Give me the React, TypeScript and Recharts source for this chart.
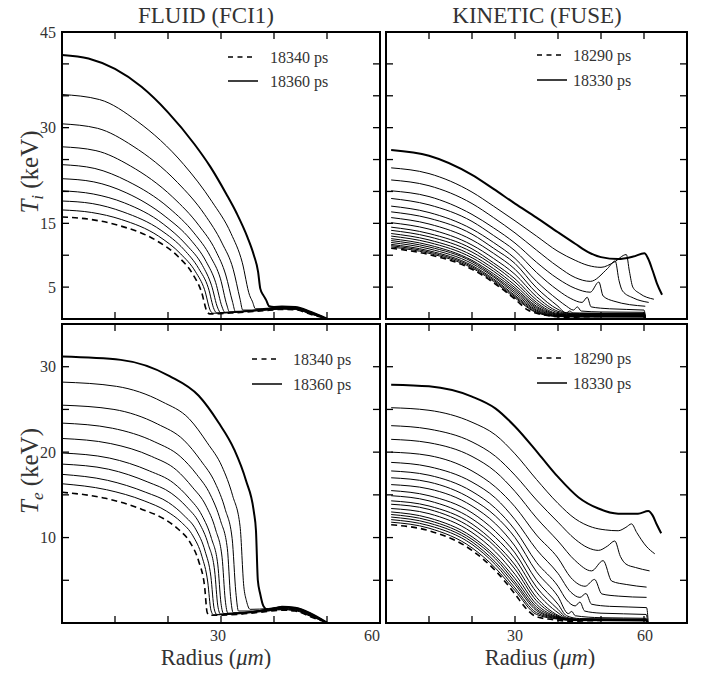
import { LineChart, Line, XAxis, YAxis, ReferenceArea } from 'recharts'

const W = 704
const H = 677
const FONT = '"Liberation Serif", "DejaVu Serif", serif'
const INK = '#333'

// each curve: [radius (um), temperature (keV)], first = dashed (earliest), last = thick (latest)
const fluidIon = [
  [[0, 16.0], [5.5, 15.6], [11, 14.6], [17.8, 12.3], [21.9, 9.8], [24.7, 7.0], [26.3, 4.3], [27.4, 1.1], [27.9, 0.8], [33, 1.0], [38, 1.3], [41.5, 1.5], [44, 1.45], [47, 0.7], [50, 0.05]],
  [[0, 17.1], [5.6, 16.7], [11.2, 15.6], [18.2, 13.0], [22.4, 10.2], [25.2, 7.4], [26.9, 4.6], [28, 1.3], [28.5, 0.9], [33, 1.05], [38, 1.35], [41.5, 1.55], [44, 1.5], [47, 0.75], [50, 0.05]],
  [[0, 18.5], [5.7, 18.1], [11.5, 16.8], [18.7, 13.9], [23, 10.9], [25.8, 7.9], [27.6, 4.9], [28.7, 1.5], [29.2, 0.95], [33, 1.1], [38, 1.4], [41.5, 1.6], [44, 1.55], [47, 0.8], [50, 0.05]],
  [[0, 20.1], [5.9, 19.6], [11.8, 18.2], [19.1, 14.9], [23.5, 11.6], [26.5, 8.4], [28.2, 5.3], [29.4, 1.7], [29.9, 1.0], [34, 1.15], [38, 1.45], [41.5, 1.65], [44, 1.6], [47, 0.85], [50, 0.05]],
  [[0, 22.0], [6.0, 21.5], [12.1, 19.8], [19.6, 16.0], [24.2, 12.5], [27.2, 9.0], [29, 5.7], [30.2, 1.9], [30.7, 1.05], [34, 1.2], [38, 1.5], [41.5, 1.7], [44, 1.65], [47, 0.9], [50, 0.05]],
  [[0, 24.2], [6.2, 23.6], [12.4, 21.6], [20.2, 17.4], [24.9, 13.5], [28, 9.8], [29.9, 6.3], [31.1, 2.2], [31.6, 1.1], [35, 1.25], [38.5, 1.55], [41.5, 1.75], [44, 1.7], [47, 0.95], [50, 0.05]],
  [[0, 27.0], [6.4, 26.4], [12.9, 24.0], [20.9, 19.1], [25.8, 14.7], [29, 10.7], [30.9, 6.9], [32.2, 2.6], [32.7, 1.2], [35.5, 1.3], [38.5, 1.6], [41.5, 1.8], [44, 1.75], [47, 1.0], [50, 0.05]],
  [[0, 30.6], [6.7, 29.9], [13.4, 27.1], [21.8, 21.4], [26.9, 16.4], [30.2, 11.9], [32.3, 7.8], [33.6, 3.1], [34.1, 1.4], [36.5, 1.4], [39, 1.65], [41.5, 1.85], [44, 1.8], [47, 1.05], [50, 0.05]],
  [[0, 35.2], [7.1, 34.4], [14.2, 31.0], [23, 24.2], [28.3, 18.4], [31.9, 13.4], [34, 8.9], [35.4, 3.7], [35.9, 2.8], [36.5, 1.6], [39, 1.7], [41.5, 1.9], [44, 1.85], [47, 1.1], [50, 0.05]],
  [[0, 41.4], [5, 40.84], [10, 39.2], [15, 36.4], [20, 32.4], [25, 27.4], [28, 23.85], [31, 19.6], [33, 16.5], [35, 12.8], [36.2, 10.0], [37, 7.4], [37.4, 4.8], [38, 3.7], [38.5, 3.0], [39.1, 2.0], [40, 1.9], [41.5, 1.95], [44, 1.9], [47, 1.1], [50, 0.05]],
]

const fluidElec = [
  [[0, 15.3], [8.2, 14.6], [15.1, 13.3], [19.2, 12.2], [21.9, 11.0], [24.1, 9.5], [25.8, 7.2], [26.9, 4.3], [27.4, 1.2], [27.9, 0.9], [33, 1.0], [38, 1.3], [41.5, 1.5], [44, 1.4], [47, 0.7], [50, 0.05]],
  [[0, 16.3], [8.4, 15.6], [15.5, 14.3], [19.7, 13.1], [22.5, 11.8], [24.7, 10.2], [26.4, 7.8], [27.5, 4.8], [28.1, 1.5], [28.6, 0.95], [33, 1.05], [38, 1.35], [41.5, 1.55], [44, 1.45], [47, 0.75], [50, 0.05]],
  [[0, 17.4], [8.6, 16.7], [15.8, 15.3], [20.1, 14.1], [23, 12.6], [25.3, 10.9], [27, 8.4], [28.1, 5.4], [28.7, 1.7], [29.2, 1.0], [33, 1.1], [38, 1.4], [41.5, 1.6], [44, 1.5], [47, 0.8], [50, 0.05]],
  [[0, 18.6], [8.8, 18.0], [16.2, 16.5], [20.6, 15.2], [23.5, 13.6], [25.9, 11.7], [27.6, 9.2], [28.8, 6.1], [29.4, 2.0], [29.9, 1.05], [34, 1.15], [38, 1.45], [41.5, 1.65], [44, 1.55], [47, 0.85], [50, 0.05]],
  [[0, 19.9], [9, 19.3], [16.5, 17.8], [21, 16.4], [24, 14.6], [26.4, 12.6], [28.2, 9.9], [29.4, 6.8], [30, 2.3], [30.5, 1.1], [34, 1.2], [38, 1.5], [41.5, 1.7], [44, 1.6], [47, 0.9], [50, 0.05]],
  [[0, 21.6], [9.2, 21.0], [16.9, 19.5], [21.6, 17.9], [24.6, 15.9], [27.1, 13.8], [29, 10.9], [30.2, 7.7], [30.8, 2.7], [31.3, 1.15], [35, 1.25], [38.5, 1.55], [41.5, 1.75], [44, 1.65], [47, 0.95], [50, 0.05]],
  [[0, 23.4], [9.5, 22.8], [17.5, 21.2], [22.3, 19.5], [25.4, 17.4], [28, 15.0], [29.9, 12.0], [31.2, 8.7], [31.8, 3.1], [32.3, 1.2], [35.5, 1.3], [38.5, 1.6], [41.5, 1.8], [44, 1.7], [47, 1.0], [50, 0.05]],
  [[0, 25.5], [9.8, 25.0], [18, 23.3], [23, 21.4], [26.2, 19.0], [28.9, 16.4], [30.8, 13.3], [32.1, 9.9], [32.8, 3.6], [33.3, 1.4], [36.5, 1.4], [39, 1.65], [41.5, 1.85], [44, 1.75], [47, 1.05], [50, 0.05]],
  [[0, 28.2], [10.3, 27.7], [18.9, 25.9], [24, 23.9], [27.4, 21.1], [30.2, 18.3], [32.2, 14.9], [33.6, 11.3], [34.3, 4.3], [34.8, 2.6], [35.5, 1.6], [39, 1.7], [41.5, 1.9], [44, 1.8], [47, 1.1], [50, 0.05]],
  [[0, 31.2], [11.1, 30.8], [20.3, 28.9], [25.8, 26.6], [29.5, 23.5], [32.5, 20.3], [34.7, 16.7], [36.2, 13.0], [36.6, 10.8], [36.95, 5.0], [37.4, 3.4], [38, 2.0], [39, 1.5], [41.5, 1.9], [44, 1.8], [47, 1.1], [50, 0.05]],
]

const kineticIon = [
  [[1.2, 11.1], [10, 10.1], [20, 7.8], [25, 5.7], [30, 3.1], [33, 1.4], [35, 0.9], [37.5, 0.55], [40, 0.35], [45, 0.15], [50, 0.05]],
  [[1.2, 11.3], [10, 10.3], [20, 8.0], [25, 5.9], [30, 3.3], [35, 1.0], [40, 0.38], [44, 0.32], [60, 0.3], [60.4, 0]],
  [[1.2, 11.5], [10, 10.5], [20, 8.2], [25, 6.1], [30, 3.5], [35, 1.1], [40, 0.42], [44, 0.36], [60, 0.35], [60.4, 0]],
  [[1.2, 11.7], [10, 10.7], [20, 8.4], [25, 6.3], [30, 3.7], [35, 1.25], [40, 0.45], [44, 0.4], [60, 0.38], [60.4, 0]],
  [[1.2, 12.0], [10, 11.0], [20, 8.7], [25, 6.6], [30, 4.0], [35, 1.4], [40, 0.5], [44, 0.43], [60, 0.4], [60.4, 0]],
  [[1.2, 12.3], [10, 11.3], [20, 9.0], [25, 6.8], [30, 4.3], [35, 1.6], [40, 0.55], [44, 0.48], [60, 0.45], [60.4, 0]],
  [[1.2, 12.6], [10, 11.6], [20, 9.2], [25, 7.1], [30, 4.6], [35, 1.8], [40, 0.62], [44, 0.53], [60, 0.5], [60.4, 0]],
  [[1.2, 13.0], [10, 12.0], [20, 9.6], [25, 7.5], [30, 4.9], [35, 2.0], [40, 0.7], [44, 0.58], [60, 0.55], [60.4, 0]],
  [[1.2, 13.4], [10, 12.4], [20, 10.0], [25, 7.9], [30, 5.3], [35, 2.3], [40, 0.75], [44, 0.63], [60, 0.6], [60.4, 0]],
  [[1.2, 13.9], [10, 12.9], [20, 10.5], [25, 8.4], [30, 5.8], [35, 2.6], [40, 0.85], [44, 0.68], [60, 0.65], [60.4, 0]],
  [[1.2, 14.4], [10, 13.4], [20, 11.0], [25, 8.8], [30, 6.3], [35, 3.0], [40, 1.0], [42, 0.8], [45, 0.72], [60, 0.7], [60.4, 0]],
  [[1.2, 15.1], [10, 14.1], [20, 11.6], [25, 9.5], [30, 7.0], [35, 3.5], [40, 1.2], [42, 0.9], [45, 0.78], [60, 0.75], [60.4, 0]],
  [[1.2, 15.9], [10, 14.9], [20, 12.4], [25, 10.3], [30, 7.8], [35, 4.1], [40, 1.5], [42, 0.98], [45, 0.87], [60, 0.85], [60.4, 0]],
  [[1.2, 16.8], [10, 15.8], [20, 13.3], [25, 11.1], [30, 8.7], [35, 4.9], [40, 2.0], [41.9, 0.95], [42.7, 1.25], [43.5, 0.95], [50, 0.9], [60, 0.9], [60.4, 0]],
  [[1.2, 17.7], [10, 16.7], [20, 14.1], [25, 12.0], [30, 9.5], [35, 5.9], [40, 3.0], [42, 2.0], [43.6, 1.4], [44.5, 1.9], [45.4, 1.25], [50, 1.1], [60, 1.05], [60.4, 0]],
  [[1.2, 18.9], [10, 17.9], [20, 15.3], [25, 13.1], [30, 10.7], [35, 7.3], [40, 4.5], [43, 3.2], [45.6, 2.6], [46.8, 3.4], [47.7, 1.9], [52, 1.6], [60, 1.4], [60.4, 0]],
  [[1.2, 20.1], [10, 19.2], [20, 16.4], [25, 14.3], [30, 11.9], [35, 8.9], [40, 6.3], [44, 4.8], [47.5, 4.2], [49.5, 5.8], [50.5, 3.6], [53, 2.8], [60.3, 2.0]],
  [[1.2, 21.8], [10, 20.9], [20, 18.1], [25, 15.9], [30, 13.5], [35, 10.8], [40, 8.2], [44, 6.5], [47.5, 5.9], [51.5, 7.9], [53.3, 9.1], [54.2, 6.0], [55, 4.4], [57.5, 3.3], [61.1, 2.6]],
  [[1.2, 23.7], [10, 22.8], [20, 19.9], [25, 17.7], [30, 15.4], [35, 13.0], [40, 10.6], [44, 9.2], [47, 8.4], [50, 8.1], [53, 8.9], [55.9, 10.1], [56.6, 7.5], [57.4, 5.0], [59, 4.0], [62.3, 3.1]],
  [[1.2, 26.5], [10, 25.6], [20, 22.6], [25, 20.4], [30, 18.1], [35, 15.9], [40, 13.6], [44, 11.8], [47, 10.5], [50, 9.7], [54, 9.4], [57.5, 9.8], [60.1, 10.3], [61, 9.4], [62, 7.6], [63, 5.6], [64.2, 3.8]],
]

const kineticElec = [
  [[1.2, 11.5], [10, 10.8], [20, 8.5], [25.5, 6.1], [30, 3.4], [32.4, 1.8], [34.7, 0.8], [38.6, 0.4], [44, 0.15], [50, 0.05]],
  [[1.2, 11.8], [10, 11.1], [20, 8.8], [25.5, 6.4], [30, 3.8], [35, 1.0], [40, 0.45], [44, 0.28], [60.5, 0.25], [60.9, 0]],
  [[1.2, 12.1], [10, 11.4], [20, 9.2], [25.5, 6.8], [30, 4.1], [35, 1.2], [40, 0.5], [44, 0.3], [60.5, 0.27], [60.9, 0]],
  [[1.2, 12.4], [10, 11.7], [20, 9.5], [25.5, 7.1], [30, 4.5], [35, 1.45], [40, 0.55], [44, 0.32], [60.5, 0.28], [60.9, 0]],
  [[1.2, 12.7], [10, 12.0], [20, 9.8], [25.5, 7.5], [30, 4.8], [35, 1.65], [40, 0.6], [44, 0.34], [60.5, 0.3], [60.9, 0]],
  [[1.2, 13.0], [10, 12.3], [20, 10.1], [25.5, 7.8], [30, 5.2], [35, 1.9], [40, 0.65], [44, 0.36], [60.5, 0.31], [60.9, 0]],
  [[1.2, 13.4], [10, 12.8], [20, 10.6], [25.5, 8.3], [30, 5.7], [35, 2.2], [40, 0.7], [44, 0.38], [60.5, 0.33], [60.9, 0]],
  [[1.2, 13.9], [10, 13.3], [20, 11.1], [25.5, 8.9], [30, 6.3], [35, 2.6], [40, 0.8], [44, 0.4], [60.5, 0.34], [60.9, 0]],
  [[1.2, 14.3], [10, 13.7], [20, 11.6], [25.5, 9.3], [30, 6.8], [35, 3.0], [40, 0.9], [42, 0.5], [45, 0.4], [60.5, 0.35], [60.9, 0]],
  [[1.2, 14.9], [10, 14.3], [20, 12.2], [25.5, 10.0], [30, 7.5], [35, 3.6], [40, 1.2], [42, 0.55], [45, 0.42], [60.5, 0.37], [60.9, 0]],
  [[1.2, 15.5], [10, 14.9], [20, 12.9], [25.5, 10.7], [30, 8.2], [35, 4.2], [40, 1.6], [42, 0.65], [45, 0.45], [60.5, 0.4], [60.9, 0]],
  [[1.2, 16.2], [10, 15.7], [20, 13.7], [25.5, 11.6], [30, 9.0], [35, 5.0], [40, 2.2], [42, 0.85], [45, 0.52], [60.5, 0.45], [60.9, 0]],
  [[1.2, 17.0], [10, 16.5], [20, 14.5], [25.5, 12.5], [30, 10.0], [35, 6.0], [40, 3.1], [42.4, 1.1], [43.2, 1.35], [44, 0.85], [50, 0.62], [60.5, 0.55], [60.9, 0]],
  [[1.2, 17.8], [10, 17.3], [20, 15.4], [25.5, 13.4], [30, 10.9], [35, 7.1], [40, 4.3], [42, 2.7], [44, 2.0], [45.1, 2.45], [46.2, 1.4], [50, 1.15], [60.5, 1.0], [60.9, 0]],
  [[1.2, 18.8], [10, 18.3], [20, 16.5], [25.5, 14.6], [30, 12.1], [35, 8.6], [40, 5.8], [43, 3.6], [45.1, 3.0], [46.5, 3.45], [47.8, 2.2], [52, 1.95], [60.6, 1.8], [61, 0]],
  [[1.2, 20.0], [10, 19.6], [20, 17.8], [25.5, 15.9], [30, 13.6], [35, 10.3], [40, 7.6], [43, 5.3], [46.3, 4.3], [48.5, 5.1], [50.2, 3.4], [54, 3.15], [60.6, 3.0]],
  [[1.2, 21.5], [10, 21.1], [20, 19.5], [25.5, 17.7], [30, 15.4], [35, 12.3], [40, 9.6], [44, 7.3], [47.8, 6.1], [50.5, 7.3], [52.5, 4.9], [56, 4.5], [60.6, 4.2]],
  [[1.2, 23.1], [10, 22.7], [20, 21.2], [25.5, 19.5], [30, 17.3], [35, 14.4], [40, 11.8], [44, 9.8], [47, 8.8], [49.4, 8.5], [51.5, 9.0], [53.2, 9.6], [54.5, 7.8], [55.8, 6.9], [58, 6.5], [61.3, 6.1]],
  [[1.2, 25.2], [10, 24.9], [20, 23.5], [25.5, 22.0], [30, 19.8], [35, 16.8], [40, 14.0], [44, 12.2], [48, 11.2], [51, 10.9], [54, 10.8], [55.8, 11.2], [57.1, 11.6], [58.3, 10.6], [60.5, 9.0], [62.5, 8.1]],
  [[1.2, 27.9], [10, 27.7], [20, 26.5], [25.5, 25.1], [30, 23.0], [35.5, 19.8], [40, 17.1], [44.8, 14.7], [49.4, 13.4], [54, 12.8], [58.6, 12.8], [61, 13.1], [62, 12.6], [63, 11.5], [64, 10.5]],
]

const fluidTimes = ['18340 ps', '18360 ps']
const kineticTimes = ['18290 ps', '18330 ps']

const xTicks = [10, 20, 30, 40, 50, 60]
const ionTicks = [5, 10, 15, 20, 25, 30, 35, 40, 45]
const elecTicks = [5, 10, 15, 20, 25, 30, 35]
const ionLabels = [45, 30, 15, 5]
const elecLabels = [30, 20, 10]

const AXIS = 20

type Box = { left: number; top: number; right: number; bottom: number }

const txt = (size: number) => ({ fontFamily: FONT, fontSize: size, fill: INK })

function Decor(props: any) {
  const { title, yTitle, xTitle, legend, names } = props
  const lx = legend.x
  return (
    <g>
      {title && (
        <text x={title.x} y={22.5} textAnchor="middle" style={txt(23)}>
          {title.text}
        </text>
      )}
      {yTitle && (
        <text
          x={38}
          y={yTitle.y}
          transform={`rotate(-90 38 ${yTitle.y})`}
          textAnchor="middle"
          style={txt(25)}
        >
          <tspan fontStyle="italic">T</tspan>
          <tspan fontStyle="italic" fontSize={17} dy={5}>
            {yTitle.sub}
          </tspan>
          <tspan dy={-5}>{' (keV)'}</tspan>
        </text>
      )}
      {xTitle && (
        <text x={xTitle.x} y={665} textAnchor="middle" style={txt(22.5)}>
          Radius (<tspan fontStyle="italic">μm</tspan>)
        </text>
      )}
      <line x1={lx} x2={lx + 25} y1={legend.y} y2={legend.y} stroke="#000" strokeWidth={1.5} strokeDasharray="5 4.5" />
      <line x1={lx} x2={lx + 30} y1={legend.y + legend.gap} y2={legend.y + legend.gap} stroke="#000" strokeWidth={1.5} />
      <text x={legend.tx} y={legend.y} dy="0.35em" style={txt(16)}>
        {names[0]}
      </text>
      <text x={legend.tx} y={legend.y + legend.gap} dy="0.35em" style={txt(16)}>
        {names[1]}
      </text>
    </g>
  )
}

function Panel(props: any) {
  const { curves, box, xMax, yMax, yTicks, yLabels, xLabels, decor } = props
  const b: Box = box
  const n = curves.length
  const order = [...Array.from({ length: n - 2 }, (_, i) => i + 1), 0, n - 1]

  const XTick = (p: any) => {
    const v = p.payload.value
    const x = p.x
    const inner = v > 0 && v < xMax
    const lab = xLabels[v]
    return (
      <g>
        {inner && <line x1={x} x2={x} y1={b.bottom} y2={b.bottom - 7} stroke="#000" strokeWidth={1.3} />}
        {inner && <line x1={x} x2={x} y1={b.top} y2={b.top + 7} stroke="#000" strokeWidth={1.3} />}
        {lab && (
          <text x={x + lab[0]} y={lab[1]} textAnchor="middle" style={txt(16)}>
            {v}
          </text>
        )}
      </g>
    )
  }

  const YTick = (p: any) => {
    const v = p.payload.value
    const y = p.y
    const inner = v > 0 && v < yMax
    return (
      <g>
        {inner && <line x1={b.left} x2={b.left + 7} y1={y} y2={y} stroke="#000" strokeWidth={1.3} />}
        {inner && <line x1={b.right - 7} x2={b.right} y1={y} y2={y} stroke="#000" strokeWidth={1.3} />}
        {yLabels.includes(v) && (
          <text x={b.left - 6} y={y} dy="0.35em" textAnchor="end" style={txt(16)}>
            {v}
          </text>
        )}
      </g>
    )
  }

  return (
    <div style={{ position: 'absolute', left: 0, top: 0 }}>
      <LineChart
        width={W}
        height={H}
        margin={{ top: b.top, left: b.left - AXIS, right: W - b.right, bottom: H - b.bottom - AXIS }}
      >
        <XAxis
          dataKey="r"
          type="number"
          domain={[0, xMax]}
          ticks={xTicks}
          interval={0}
          height={AXIS}
          tickSize={0}
          tickMargin={0}
          axisLine={false}
          tickLine={false}
          tick={XTick}
          allowDataOverflow
        />
        <YAxis
          type="number"
          domain={[0, yMax]}
          ticks={yTicks}
          interval={0}
          width={AXIS}
          tickSize={0}
          tickMargin={0}
          axisLine={false}
          tickLine={false}
          tick={YTick}
          allowDataOverflow
        />
        <ReferenceArea
          x1={0}
          x2={xMax}
          y1={0}
          y2={yMax}
          fill="none"
          stroke="#000"
          strokeWidth={2}
          label={decor}
        />
        {order.map((i) => {
          const pts = curves[i].map(([r, t]: number[]) => ({ r, t }))
          const dashed = i === 0
          const thick = i === n - 1
          return (
            <Line
              key={i}
              data={pts}
              dataKey="t"
              type="monotone"
              stroke="#000"
              strokeWidth={thick ? 2 : dashed ? 1.6 : 1}
              strokeDasharray={dashed ? '6 4' : undefined}
              dot={false}
              activeDot={false}
              legendType="none"
              isAnimationActive={false}
            />
          )
        })}
      </LineChart>
    </div>
  )
}

export default function App() {
  return (
    <div style={{ position: 'relative', width: W, height: H, margin: -8, background: '#fff' }}>
      <Panel
        curves={fluidIon}
        box={{ left: 62, top: 32, right: 380, bottom: 319 }}
        xMax={60}
        yMax={45}
        yTicks={ionTicks}
        yLabels={ionLabels}
        xLabels={{}}
        decor={
          <Decor
            title={{ text: 'FLUID (FCI1)', x: 206 }}
            yTitle={{ sub: 'i', y: 172 }}
            legend={{ x: 228, y: 57, gap: 24, tx: 270 }}
            names={fluidTimes}
          />
        }
      />
      <Panel
        curves={kineticIon}
        box={{ left: 386, top: 32, right: 687, bottom: 319 }}
        xMax={70}
        yMax={45}
        yTicks={ionTicks}
        yLabels={[]}
        xLabels={{}}
        decor={
          <Decor
            title={{ text: 'KINETIC (FUSE)', x: 537 }}
            legend={{ x: 537, y: 55, gap: 25, tx: 573 }}
            names={kineticTimes}
          />
        }
      />
      <Panel
        curves={fluidElec}
        box={{ left: 62, top: 324, right: 380, bottom: 623 }}
        xMax={60}
        yMax={35}
        yTicks={elecTicks}
        yLabels={elecLabels}
        xLabels={{ 30: [-3, 641], 60: [-8, 641] }}
        decor={
          <Decor
            yTitle={{ sub: 'e', y: 471 }}
            xTitle={{ x: 216 }}
            legend={{ x: 252, y: 359, gap: 25, tx: 293 }}
            names={fluidTimes}
          />
        }
      />
      <Panel
        curves={kineticElec}
        box={{ left: 386, top: 324, right: 687, bottom: 623 }}
        xMax={70}
        yMax={35}
        yTicks={elecTicks}
        yLabels={[]}
        xLabels={{ 30: [0, 641], 60: [1, 641] }}
        decor={
          <Decor
            xTitle={{ x: 540 }}
            legend={{ x: 537, y: 358, gap: 25, tx: 573 }}
            names={kineticTimes}
          />
        }
      />
    </div>
  )
}
